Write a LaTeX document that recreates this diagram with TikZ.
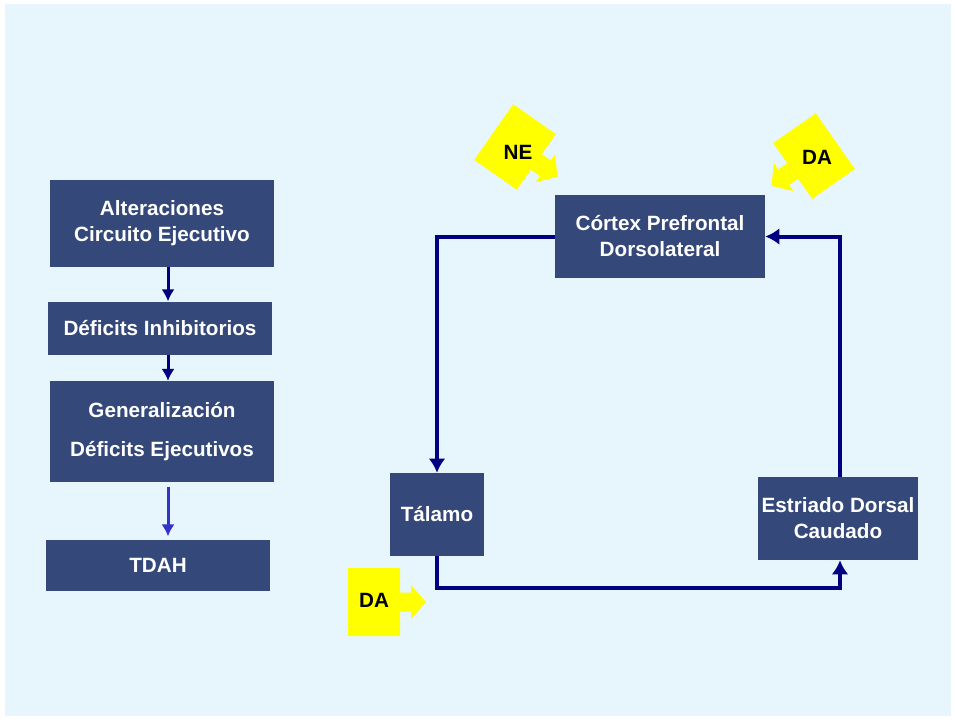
\documentclass[tikz,border=0pt]{standalone}
\usepackage{fontspec}
\setmainfont{Liberation Sans}
\usetikzlibrary{positioning}
\usetikzlibrary{arrows.meta}
\definecolor{color1}{RGB}{231, 245, 253}
\definecolor{color2}{RGB}{52, 72, 122}
\definecolor{color3}{RGB}{0, 0, 128}
\definecolor{color4}{RGB}{51, 51, 204}
\definecolor{color5}{RGB}{255, 255, 0}
\tikzstyle{box} = [fill=color2, text=white, inner sep=0pt, align=center,
  font=\fontsize{15.5}{19.5}\selectfont\bfseries]
\tikzstyle{line} = [draw=color3, line width=2.25pt, -{Latex[length=9pt,width=10pt]}]
\tikzstyle{link} = [draw=color3, line width=3pt, -{Latex[length=10.5pt,width=12.5pt]}]
\tikzstyle{tag} = [inner sep=0pt, font=\fontsize{15.5}{19.5}\selectfont\bfseries]
\tikzset{
  callout/.pic={
    \fill[color5] (-26,-34) -- (26,-34) -- (26,-9.5) -- (37,-9.5) -- (37,-17)
      -- (52,0) -- (37,17) -- (37,9.5) -- (26,9.5) -- (26,34) -- (-26,34) -- cycle;
  }
}
\begin{document}
\begin{tikzpicture}[x=0.75pt, y=-0.75pt]

  \useasboundingbox (0,0) rectangle (955,719);
  \fill[white] (0,0) rectangle (955,719);
  \fill[color1] (5,4) rectangle (951,716);

  % ============================ Chain ========================================

  \node[box, minimum width=168pt, minimum height=65.25pt] (alt) at (162,223.5)
    {Alteraciones\\Circuito Ejecutivo};
  \node[box, minimum width=168pt, minimum height=39.75pt,
    below=25.5pt of alt, xshift=-1.5pt] (inh) {D\'eficits Inhibitorios};
  \node[box, minimum width=168pt, minimum height=75.75pt,
    below=19.5pt of inh, xshift=1.5pt] (gen)
    {Generalizaci\'on\\[9.5pt]D\'eficits Ejecutivos};
  \node[box, minimum width=168pt, minimum height=38.25pt,
    below=42.75pt of gen, xshift=-3pt] (tdah) {TDAH};

  \path[line]{
    ([xshift=4.5pt]alt.south)
    -- ([xshift=6pt]inh.north)};
  \path[line]{
    ([xshift=6pt]inh.south)
    -- ([xshift=4.5pt]gen.north)};
  \path[line, draw=color4]{
    ([xshift=4.5pt, yshift=-3.75pt]gen.south)
    -- ([xshift=7.5pt, yshift=2.25pt]tdah.north)};

  % ============================ Circuit ======================================

  \node[box, minimum width=157.5pt, minimum height=62.25pt] (cpf) at (660,236.5)
    {C\'ortex Prefrontal\\Dorsolateral};
  \node[box, minimum width=70.5pt, minimum height=62.25pt] (tal) at (437,514.5)
    {T\'alamo};
  \node[box, minimum width=120pt, minimum height=62.25pt] (est) at (838,518.5)
    {Estriado Dorsal\\Caudado};

  \path[link]{
    (cpf.west)
    -| (tal.north)};
  \path[link]{
    (tal.south)
    -- ++(0,32)
    -| ([xshift=1.5pt]est.south)};
  \path[link]{
    ([xshift=1.5pt]est.north)
    |- (cpf.east)};

  % ============================ Callouts =====================================

  \pic[rotate=-35] at (515,147) {callout};
  \node[tag] (ne) at (518,152) {NE};
  \pic[rotate=-145] at (814,156) {callout};
  \node[tag] (dat) at (817,157) {DA};
  \pic at (374,602) {callout};
  \node[tag] (dab) at (374,600) {DA};

\end{tikzpicture}
\end{document}
